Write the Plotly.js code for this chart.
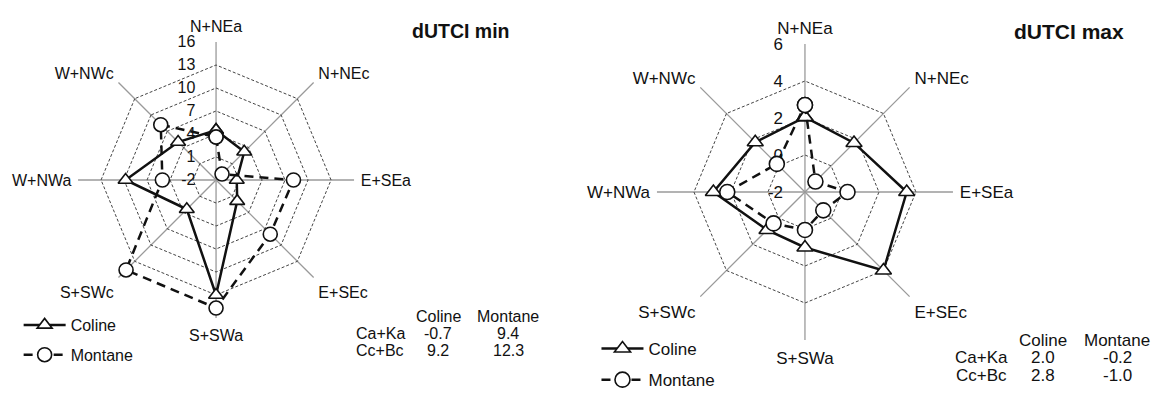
<!DOCTYPE html>
<html>
<head>
<meta charset="utf-8">
<script src="https://cdn.plot.ly/plotly-3.0.1.min.js"></script>
<style>
  html, body { margin: 0; padding: 0; background: #fff; }
  #plot { width: 1165px; height: 403px; }
</style>
</head>
<body>
<div id="plot"></div>
<script>
var sectors = ['N+NEa', 'N+NEc', 'E+SEa', 'E+SEc', 'S+SWa', 'S+SWc', 'W+NWa', 'W+NWc'];

// dUTCI min (left)
var minColine  = [4.5, 3.2, 0.7, 1.9, 13.0, 3.4, 9.8, 5.0];
var minMontane = [3.6, -0.9, 8.1, 8.0, 14.7, 14.6, 5.0, 8.2];
var minTicks = [-2, 1, 4, 7, 10, 13, 16];

// dUTCI max (right)
var maxColine  = [2.05, 1.75, 3.5, 4.0, 1.0, 0.9, 2.95, 1.8];
var maxMontane = [2.7, -1.2, 0.3, -0.6, 0.05, 0.4, 2.2, 0.15];
var maxTicks = [-2, 0, 2, 4, 6];

// small tables
var tableCols = ['Coline', 'Montane'];
var tableRows = ['Ca+Ka', 'Cc+Bc'];
var minTable = [['-0.7', '9.4'], ['9.2', '12.3']];
var maxTable = [['2.0', '-0.2'], ['2.8', '-1.0']];

function closeLoop(arr) { return arr.concat([arr[0]]); }
var theta = closeLoop(sectors);

function colineStyle(sz) {
    return {
        mode: 'lines+markers',
        legendgroup: 'coline',
        line: {color: '#111', width: 2.5},
        marker: {symbol: 'triangle-up', size: sz, color: '#fff', line: {color: '#111', width: 1.6}}
    };
}
function montaneStyle(sz) {
    return {
        mode: 'lines+markers',
        legendgroup: 'montane',
        line: {color: '#111', width: 2.5, dash: '9px,6px'},
        marker: {symbol: 'circle', size: sz, color: '#fff', line: {color: '#111', width: 1.6}}
    };
}

function makeTrace(name, r, style, subplot, legend) {
    return Object.assign({
        type: 'scatterpolar',
        name: name,
        r: closeLoop(r),
        theta: theta,
        subplot: subplot,
        legend: legend,
        cliponaxis: true,
        hoverinfo: 'skip'
    }, style);
}

var data = [
    makeTrace('Coline', minColine, colineStyle(13), 'polar', 'legend'),
    makeTrace('Montane', minMontane, montaneStyle(14), 'polar', 'legend'),
    makeTrace('Coline', maxColine, colineStyle(14), 'polar2', 'legend2'),
    makeTrace('Montane', maxMontane, montaneStyle(15), 'polar2', 'legend2')
];

// tick labels sit to the left of the vertical axis
var pad = '\u00a0\u00a0\u00a0\u00a0';

function polarLayout(domain, ticks, fs) {
    return {
        domain: domain,
        gridshape: 'linear',
        bgcolor: 'rgba(0,0,0,0)',
        radialaxis: {
            range: [ticks[0], ticks[ticks.length - 1]],
            tickvals: ticks,
            ticktext: ticks.map(function (t) { return t + pad; }),
            angle: 90,
            side: 'counterclockwise',
            tickangle: 90,
            showline: false,
            ticks: '',
            gridcolor: '#444',
            griddash: '3px,2px',
            gridwidth: 1,
            layer: 'below traces',
            tickfont: {size: fs, color: '#111'}
        },
        angularaxis: {
            categoryarray: sectors,
            rotation: 90,
            direction: 'clockwise',
            showline: false,
            ticks: 'outside',
            ticklen: 3,
            tickcolor: 'rgba(0,0,0,0)',
            gridcolor: '#9a9a9a',
            gridwidth: 1.3,
            layer: 'below traces',
            tickfont: {size: fs, color: '#111'}
        }
    };
}

var font = {family: 'Liberation Sans, Arial, sans-serif', size: 16, color: '#111'};

function tableAnnotations(table, colX, rowX, headY, rowY, fs) {
    var anns = [];
    tableCols.forEach(function (c, j) {
        anns.push({text: c, x: colX[j], y: headY});
    });
    tableRows.forEach(function (r, i) {
        anns.push({text: r, x: rowX, y: rowY[i]});
        table[i].forEach(function (v, j) {
            anns.push({text: v, x: colX[j], y: rowY[i]});
        });
    });
    return anns.map(function (a) {
        return Object.assign({xref: 'paper', yref: 'paper', showarrow: false,
            xanchor: 'center', yanchor: 'middle', font: {size: fs, color: '#111'}}, a);
    });
}

var annotations = [
    {text: '<b>dUTCI min</b>', x: 461 / 1165, y: 1 - 31 / 403, font: {size: 19.5, color: '#111'}},
    {text: '<b>dUTCI max</b>', x: 1069 / 1165, y: 1 - 32 / 403, font: {size: 21, color: '#111'}}
].map(function (a) {
    return Object.assign({xref: 'paper', yref: 'paper', showarrow: false,
        xanchor: 'center', yanchor: 'middle'}, a);
}).concat(
    tableAnnotations(minTable, [438 / 1165, 508 / 1165], 380 / 1165, 1 - 316 / 403,
        [1 - 333 / 403, 1 - 350 / 403], 16),
    tableAnnotations(maxTable, [1043 / 1165, 1117 / 1165], 981 / 1165, 1 - 340 / 403,
        [1 - 357 / 403, 1 - 375 / 403], 17)
);

function legendBase(fs) {
    return {
        xanchor: 'left', yanchor: 'top', bgcolor: 'rgba(0,0,0,0)',
        font: {size: fs, color: '#111'}, traceorder: 'grouped', tracegroupgap: 6,
        itemwidth: 42
    };
}

var layout = {
    width: 1165,
    height: 403,
    margin: {l: 0, r: 0, t: 0, b: 0},
    paper_bgcolor: '#fff',
    plot_bgcolor: '#fff',
    font: font,
    showlegend: true,
    polar: polarLayout({x: [0.0670, 0.3039], y: [0.2109, 0.8958]}, minTicks, 16),
    polar2: polarLayout({x: [0.5639, 0.8180], y: [0.1563, 0.8908]}, maxTicks, 17),
    legend: Object.assign({x: 0.016, y: 1 - 308 / 403}, legendBase(16)),
    legend2: Object.assign({x: 0.512, y: 1 - 331 / 403}, legendBase(17)),
    annotations: annotations
};

Plotly.newPlot('plot', data, layout, {displayModeBar: false, staticPlot: true});
</script>
</body>
</html>
